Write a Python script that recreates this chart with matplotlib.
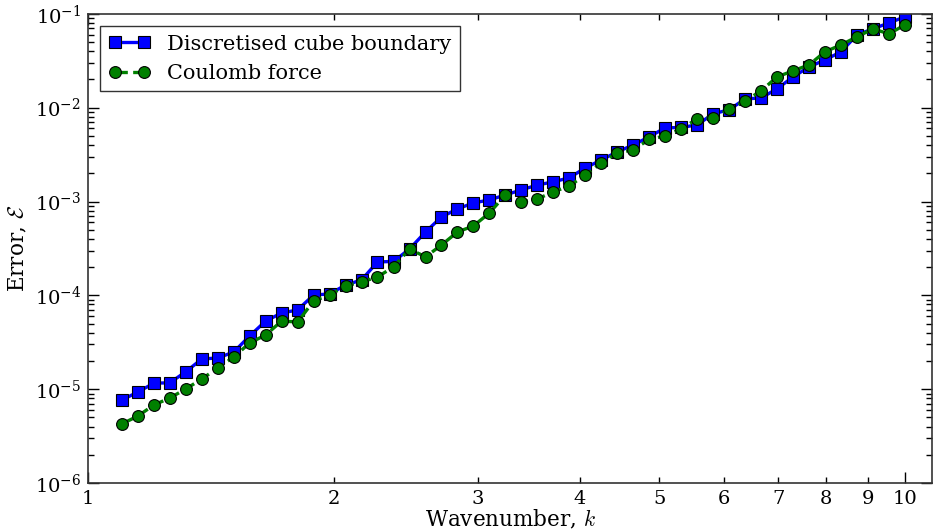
import matplotlib
matplotlib.use("Agg")
import matplotlib.pyplot as plt
from matplotlib.ticker import FixedLocator, FixedFormatter, LogLocator, LogFormatterMathtext, NullFormatter

plt.rcParams['font.family'] = ['DejaVu Serif']
plt.rcParams['mathtext.fontset'] = 'dejavuserif'
plt.rcParams['axes.unicode_minus'] = False

k = [1.100, 1.151, 1.204, 1.259, 1.317, 1.378, 1.441, 1.508, 1.577, 1.650,
     1.726, 1.805, 1.889, 1.976, 2.067, 2.162, 2.261, 2.366, 2.475, 2.589,
     2.708, 2.833, 2.963, 3.100, 3.242, 3.392, 3.548, 3.711, 3.882, 4.061,
     4.248, 4.444, 4.649, 4.863, 5.087, 5.321, 5.567, 5.823, 6.091, 6.372,
     6.665, 6.973, 7.294, 7.630, 7.981, 8.349, 8.734, 9.136, 9.557, 9.997]

err_cube = [7.67e-6, 9.33e-6, 1.16e-5, 1.17e-5, 1.53e-5, 2.10e-5, 2.15e-5, 2.49e-5, 3.69e-5, 5.33e-5,
            6.49e-5, 6.99e-5, 1.01e-4, 1.035e-4, 1.29e-4, 1.46e-4, 2.27e-4, 2.30e-4, 3.12e-4, 4.74e-4,
            6.85e-4, 8.34e-4, 9.66e-4, 1.04e-3, 1.175e-3, 1.33e-3, 1.50e-3, 1.62e-3, 1.79e-3, 2.28e-3,
            2.77e-3, 3.38e-3, 4.01e-3, 4.89e-3, 6.10e-3, 6.15e-3, 6.56e-3, 8.60e-3, 9.50e-3, 1.24e-2,
            1.27e-2, 1.59e-2, 2.13e-2, 2.72e-2, 3.23e-2, 3.94e-2, 5.97e-2, 6.92e-2, 8.00e-2, 9.30e-2]

err_coulomb = [4.26e-6, 5.18e-6, 6.79e-6, 8.05e-6, 1.005e-5, 1.285e-5, 1.68e-5, 2.20e-5, 3.11e-5, 3.78e-5,
               5.33e-5, 5.20e-5, 8.71e-5, 1.01e-4, 1.26e-4, 1.39e-4, 1.57e-4, 2.01e-4, 3.12e-4, 2.57e-4,
               3.44e-4, 4.74e-4, 5.49e-4, 7.55e-4, 1.175e-3, 9.90e-4, 1.066e-3, 1.265e-3, 1.466e-3, 1.92e-3,
               2.58e-3, 3.30e-3, 3.55e-3, 4.60e-3, 5.00e-3, 5.94e-3, 7.60e-3, 7.80e-3, 9.70e-3, 1.18e-2,
               1.51e-2, 2.13e-2, 2.47e-2, 2.86e-2, 3.94e-2, 4.67e-2, 5.69e-2, 6.92e-2, 6.12e-2, 7.63e-2]

series_labels = ['Discretised cube boundary', 'Coulomb force']
x_major = [1, 10]
x_minor = [2, 3, 4, 5, 6, 7, 8, 9]

fig = plt.figure(figsize=(9.33, 5.32), dpi=100)
ax = fig.add_axes([0.0943, 0.092, 0.905, 0.882])

ax.plot(k, err_cube, '-s', color='#0000ff', lw=2.4, ms=8.5, mec='k', mew=0.8,
        label=series_labels[0])
ax.plot(k, err_coulomb, '--o', color='#008000', lw=2.4, ms=8.5, mec='k', mew=0.8,
        label=series_labels[1])

ax.set_xscale('log')
ax.set_yscale('log')
ax.set_xlim(1, 10.8)
ax.set_ylim(1e-6, 1e-1)

ax.xaxis.set_major_locator(FixedLocator(x_major))
ax.xaxis.set_major_formatter(FixedFormatter([str(v) for v in x_major]))
ax.xaxis.set_minor_locator(FixedLocator(x_minor))
ax.xaxis.set_minor_formatter(FixedFormatter([str(v) for v in x_minor]))
ax.yaxis.set_major_locator(LogLocator(base=10))
ax.yaxis.set_major_formatter(LogFormatterMathtext())
ax.yaxis.set_minor_locator(LogLocator(base=10, subs=range(2, 10)))
ax.yaxis.set_minor_formatter(NullFormatter())

ax.tick_params(which='both', direction='in', top=True, right=True, labelsize=14, pad=5)
ax.tick_params(which='major', length=8, width=1)
ax.tick_params(which='minor', length=4, width=1)
for s in ax.spines.values():
    s.set_linewidth(1.2)
    s.set_color('#333333')

ax.set_xlabel('Wavenumber, $k$', fontsize=15.5, labelpad=0, math_fontfamily='cm')
ax.set_ylabel('Error, $\\mathcal{E}$', fontsize=15.5, labelpad=4, math_fontfamily='cm')

leg = ax.legend(loc='upper left', numpoints=2, fontsize=15, fancybox=False,
                edgecolor='#333333', framealpha=1, handlelength=2.0,
                borderaxespad=0.6)
leg.get_frame().set_linewidth(1.0)

fig.savefig('out.png', dpi=100)
